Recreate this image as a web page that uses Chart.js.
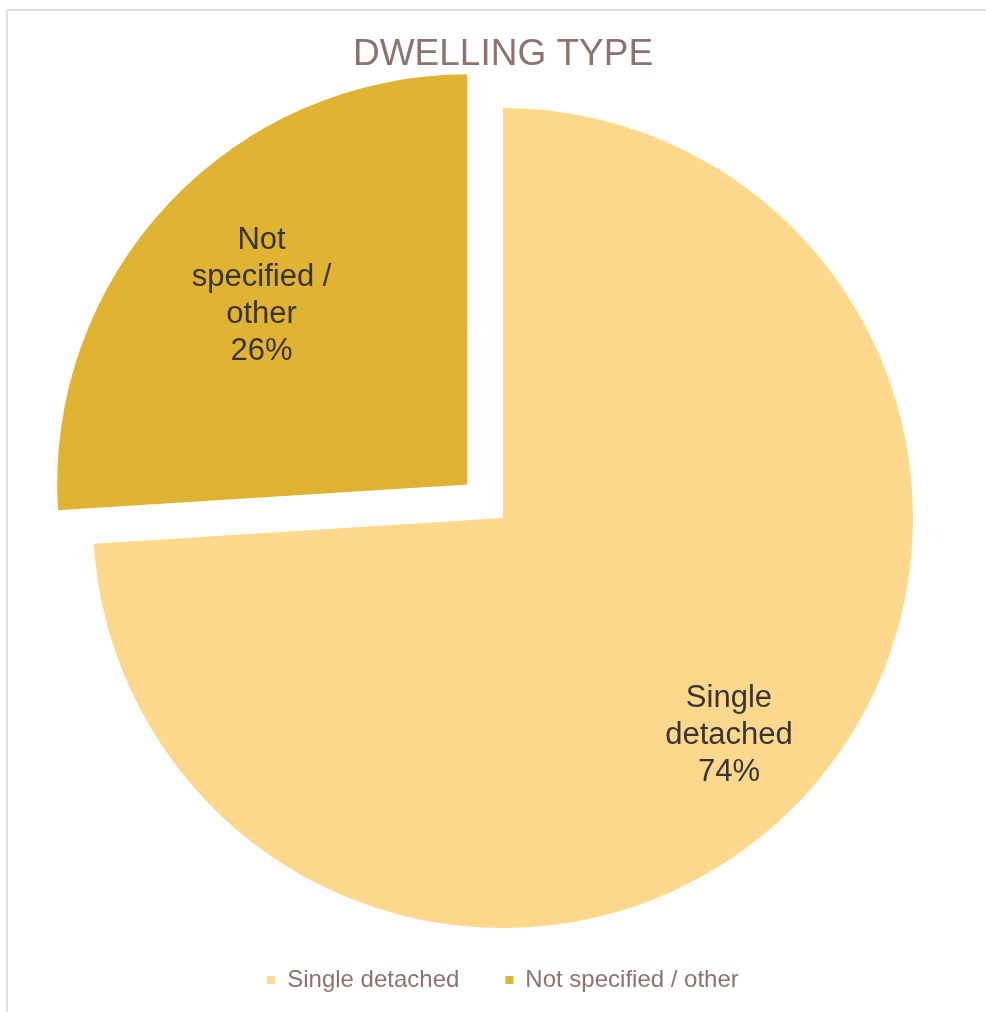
<!DOCTYPE html>
<html>
<head>
<meta charset="utf-8">
<script src="https://cdn.jsdelivr.net/npm/chart.js@4.4.1/dist/chart.umd.min.js"></script>
<style>
  html, body { margin: 0; padding: 0; background: #ffffff; overflow: hidden; width: 986px; height: 1012px; }
  #frame { position: absolute; left: 6px; top: 9px; width: 990px; height: 1010px; border: 2px solid #e4e0dd; background: #fff; }
  canvas { display: block; }
</style>
</head>
<body>
<div id="frame"><canvas id="c" width="990" height="1001"></canvas></div>
<script>
// ---- data ----
const chartTitle = 'DWELLING TYPE';
const categories = ['Single detached', 'Not specified / other'];
const values = [74, 26];
const sliceColors = ['#FED88D', '#E0B432'];
// Chart.js moves an exploded arc by offset/4
const sliceOffsets = [0, 196];
const labelRadiusRatio = [0.756, 0.688];

const FONT = '"Liberation Sans", Arial, "DejaVu Sans", sans-serif';

// give back the room that Chart.js reserves for the exploded slice,
// and let the pie use the empty padding above the legend
const areaPlugin = {
  id: 'areaPlugin',
  afterLayout(chart) {
    const ca = chart.chartArea;
    const extra = Math.max(...sliceOffsets) / 2;
    ca.left -= extra;
    ca.right += extra;
    ca.top -= extra;
    ca.bottom += extra + 6;
    ca.width = ca.right - ca.left;
    ca.height = ca.bottom - ca.top;
  }
};

function wrapText(ctx, text, maxW) {
  const words = text.split(' ');
  const lines = [];
  let cur = '';
  words.forEach(w => {
    const t = cur ? cur + ' ' + w : w;
    if (ctx.measureText(t).width > maxW && cur) { lines.push(cur); cur = w; }
    else cur = t;
  });
  if (cur) lines.push(cur);
  return lines;
}

const labelPlugin = {
  id: 'sliceLabels',
  afterDatasetsDraw(chart) {
    const ctx = chart.ctx;
    const meta = chart.getDatasetMeta(0);
    const total = values.reduce((a, b) => a + b, 0);
    ctx.save();
    ctx.font = '31px ' + FONT;
    ctx.fillStyle = '#3b3434';
    ctx.textAlign = 'center';
    ctx.textBaseline = 'middle';
    meta.data.forEach((arc, i) => {
      const p = arc.getProps(['x', 'y', 'startAngle', 'endAngle', 'outerRadius', 'circumference']);
      const mid = (p.startAngle + p.endAngle) / 2;
      const o = (arc.options.offset || 0) / 4;
      const fix = 1 - Math.sin(Math.min(Math.PI, p.circumference || 0));
      const d = o * (1 + fix) + p.outerRadius * labelRadiusRatio[i];
      const cx = p.x + Math.cos(mid) * d;
      const cy = p.y + Math.sin(mid) * d + 5;
      const lines = wrapText(ctx, categories[i], 160);
      lines.push(Math.round(values[i] / total * 100) + '%');
      const lh = 37;
      const startY = cy - (lines.length - 1) * lh / 2;
      lines.forEach((ln, k) => ctx.fillText(ln, cx, startY + k * lh));
    });
    ctx.restore();
  }
};

new Chart(document.getElementById('c'), {
  type: 'pie',
  data: {
    labels: categories,
    datasets: [{
      data: values,
      backgroundColor: sliceColors,
      borderWidth: 0,
      offset: sliceOffsets,
      hoverOffset: 0
    }]
  },
  options: {
    responsive: false,
    animation: false,
    devicePixelRatio: 1,
    layout: { padding: { top: 0, bottom: 10, left: 0, right: 0 } },
    plugins: {
      title: {
        display: true,
        text: chartTitle,
        color: '#8c736d',
        font: { family: FONT, size: 37, weight: 'normal', lineHeight: 1.2 },
        padding: { top: 22, bottom: 30.6 }
      },
      legend: {
        display: true,
        position: 'bottom',
        labels: {
          usePointStyle: true,
          pointStyle: 'rect',
          boxWidth: 8,
          boxHeight: 8,
          padding: 46,
          color: '#8c736d',
          font: { family: FONT, size: 24 }
        }
      },
      tooltip: { enabled: false }
    }
  },
  plugins: [areaPlugin, labelPlugin]
});
</script>
</body>
</html>
